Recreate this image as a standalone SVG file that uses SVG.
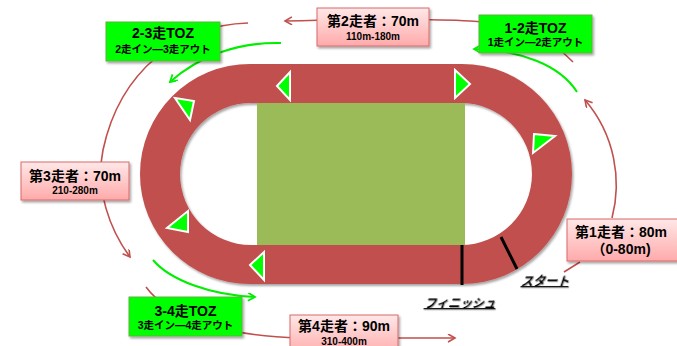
<svg xmlns="http://www.w3.org/2000/svg" width="677" height="346" viewBox="0 0 677 346">
<style>
.t{font-family:"Liberation Sans","Noto Sans CJK JP",sans-serif;font-weight:bold;fill:#000;text-anchor:middle}
.h{font-size:14px}
.s{font-size:10px}
.j{font-size:10.5px}
.arc{fill:none;stroke:#C0504D;stroke-width:1.6}
.grn{fill:none;stroke:#00EE00;stroke-width:2}
.pink{fill:url(#pg);stroke:#D9696A;stroke-width:1;filter:url(#sh)}
.gbox{fill:#00FF00;stroke:#5DB33C;stroke-width:1;filter:url(#sh)}
.tri{fill:#00FF00;stroke:#fff;stroke-width:2;stroke-linejoin:miter}
.lbl{font-family:"Liberation Sans","Noto Sans CJK JP",sans-serif;font-weight:bold;font-size:12px;fill:#000;text-decoration:underline;text-anchor:middle;filter:url(#ts)}
</style>
<defs>
<linearGradient id="pg" x1="0" y1="0" x2="0" y2="1">
<stop offset="0" stop-color="#FFE8E8"/>
<stop offset="1" stop-color="#FFAAAA"/>
</linearGradient>
<filter id="sh" x="-10%" y="-20%" width="130%" height="150%">
<feDropShadow dx="1.5" dy="2" stdDeviation="1.2" flood-color="#000" flood-opacity="0.35"/>
</filter>
<filter id="ts" x="-10%" y="-20%" width="130%" height="160%">
<feDropShadow dx="1" dy="1" stdDeviation="0.6" flood-color="#666" flood-opacity="0.6"/>
</filter>
<marker id="ar" markerWidth="10" markerHeight="10" refX="8" refY="4" orient="auto" markerUnits="userSpaceOnUse">
<path d="M1,0 L8,4 L1,8" fill="none" stroke="#C0504D" stroke-width="1.6"/>
</marker>
<marker id="ag" markerWidth="10" markerHeight="10" refX="8" refY="4" orient="auto" markerUnits="userSpaceOnUse">
<path d="M1,0 L8,4 L1,8" fill="none" stroke="#00EE00" stroke-width="1.8"/>
</marker>
</defs>
<rect width="677" height="346" fill="#fff"/>
<g id="track">
<path d="M250,64 H462 A110,110 0 0 1 462,284 H250 A110,110 0 0 1 250,64 Z M251,103 H461 A71,71 0 0 1 461,245 H251 A71,71 0 0 1 251,103 Z" fill="#C0504D" fill-rule="evenodd" filter="url(#sh)"/>
<rect x="257" y="103" width="208" height="142" fill="#9BBB59"/>
<line x1="462" y1="245" x2="462" y2="285" stroke="#000" stroke-width="3"/>
<line x1="501" y1="237" x2="517" y2="269" stroke="#000" stroke-width="3"/>
<polygon class="tri" points="277,86 290,72 290,100"/>
<polygon class="tri" points="455,70 470,84 455,98"/>
<polygon class="tri" points="175,98 194,101 190,120"/>
<polygon class="tri" points="534,134 555,136 533,153"/>
<polygon class="tri" points="188,211 188,232 167,228"/>
<polygon class="tri" points="250,265 264,252 264,280"/>
<text class="lbl" transform="translate(545,285) skewX(-18)">スタート</text>
<text class="lbl" transform="translate(460,307) skewX(-18)">フィニッシュ</text>
</g>
<g id="connectors">
<path class="arc" d="M612,218 C622,180 615,135 585,100" marker-end="url(#ar)"/>
<path class="arc" d="M580,262 L564,272"/>
<path class="arc" d="M573,62 C550,38 520,24 470,21 C420,18 330,20 285,21" marker-end="url(#ar)"/>
<path class="arc" d="M248,23 C180,25 120,70 103,150 C95,190 110,230 130,257" marker-end="url(#ar)"/>
<path class="arc" d="M146,287 C170,320 230,336 300,338 L455,338" marker-end="url(#ar)"/>
<path class="grn" d="M577,92 C560,65 520,50 474,49" marker-end="url(#ag)"/>
<path class="grn" d="M281,43 C240,42 200,55 170,82" marker-end="url(#ag)"/>
<path class="grn" d="M153,260 C170,280 210,295 255,297" marker-end="url(#ag)"/>
</g>
<g id="runner2">
<rect class="pink" x="317" y="8" width="112" height="38"/>
<text class="t h" x="373" y="26">第2走者：70m</text>
<text class="t s" x="373" y="40">110m-180m</text>
</g>
<g id="toz12">
<rect class="gbox" x="479" y="15" width="113" height="38"/>
<text class="t h" x="535.5" y="33">1-2走TOZ</text>
<text class="t j" x="535.5" y="46">1走イン―2走アウト</text>
</g>
<g id="toz23">
<rect class="gbox" x="106" y="22" width="114" height="39"/>
<text class="t h" x="163" y="38">2-3走TOZ</text>
<text class="t j" x="163" y="53">2走イン―3走アウト</text>
</g>
<g id="runner3">
<rect class="pink" x="21" y="162" width="108" height="38"/>
<text class="t h" x="75" y="181">第3走者：70m</text>
<text class="t s" x="75" y="194">210-280m</text>
</g>
<g id="toz34">
<rect class="gbox" x="129" y="297" width="113" height="39"/>
<text class="t h" x="185.5" y="316">3-4走TOZ</text>
<text class="t j" x="185.5" y="329">3走イン―4走アウト</text>
</g>
<g id="runner4">
<rect class="pink" x="290" y="315" width="108" height="40"/>
<text class="t h" x="344" y="331">第4走者：90m</text>
<text class="t s" x="344" y="345">310-400m</text>
</g>
<g id="runner1">
<rect class="pink" x="567" y="219" width="114" height="42"/>
<text class="t h" x="621" y="237">第1走者：80m</text>
<text class="t h" x="621" y="254">（0-80m)</text>
</g>
</svg>
